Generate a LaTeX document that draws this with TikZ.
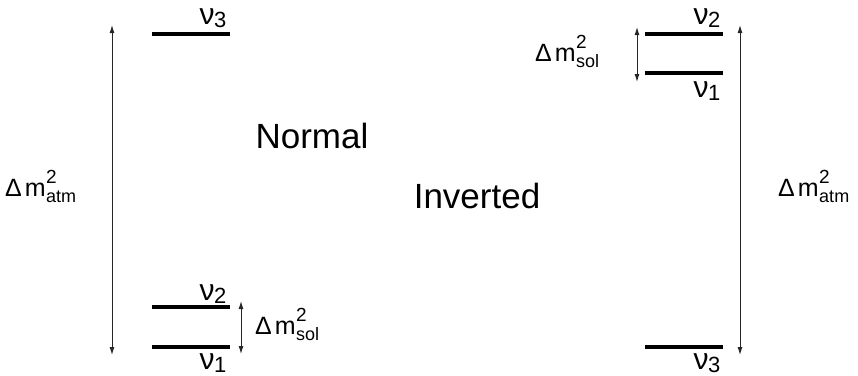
\documentclass[tikz,border=0pt]{standalone}
\usepackage{fontspec}
\setmainfont{Liberation Sans}
\usetikzlibrary{arrows.meta}
\newcommand\dmsq[1]{Δ\kern3pt m\kern0.5pt\rlap{\raisebox{12.5pt}{\fontsize{19}{19}\selectfont 2}}\raisebox{-6pt}{\fontsize{18}{18}\selectfont #1}}
\newcommand\nulab[1]{ν\kern-0.5pt\raisebox{-3pt}{\fontsize{22}{22}\selectfont #1}}
\begin{document}
\begin{tikzpicture}[x=1pt,y=-1pt,
  level/.style={fill=black,draw=none,minimum width=78pt,minimum height=4pt,inner sep=0pt},
  gap/.style={draw=black!85,line width=1pt,{Latex[length=8pt,width=5pt]}-{Latex[length=8pt,width=5pt]}},
  lab/.style={inner sep=0pt,font=\fontsize{25}{25}\selectfont},
  nlab/.style={inner sep=0pt,font=\fontsize{30}{30}\selectfont},
  title/.style={inner sep=0pt,font=\fontsize{35}{35}\selectfont}]
\useasboundingbox (0,0) rectangle (858,375);
% Normal hierarchy
\node[level] (n3) at (191,34) {};
\node[level] (n2) at (191,307) {};
\node[level] (n1) at (191,347) {};
\coordinate (at1) at (112,25);
\coordinate (at2) at (112,355);
\draw[gap] (at1) -- (at2);
\coordinate (s1) at (241,301);
\coordinate (s2) at (241,354);
\draw[gap] (s1) -- (s2);
\node[nlab,anchor=base] (ln3) at (213,24) {\nulab{3}};
\node[nlab,anchor=base] (ln2) at (213,300) {\nulab{2}};
\node[nlab,anchor=base] (ln1) at (213,369) {\nulab{1}};
\node[lab,anchor=base west] (atmL) at (5,196) {\dmsq{atm}};
\node[lab,anchor=base west] (solL) at (255,334) {\dmsq{sol}};
\node[title,anchor=base] (normal) at (312,148) {Normal};
% Inverted hierarchy
\node[level] (i2) at (684,34) {};
\node[level] (i1) at (684,73) {};
\node[level] (i3) at (684,347) {};
\coordinate (ia1) at (740,25);
\coordinate (ia2) at (740,355);
\draw[gap] (ia1) -- (ia2);
\coordinate (is1) at (637,27);
\coordinate (is2) at (637,82);
\draw[gap] (is1) -- (is2);
\node[nlab,anchor=base] (li2) at (707,24) {\nulab{2}};
\node[nlab,anchor=base] (li1) at (707,97) {\nulab{1}};
\node[nlab,anchor=base] (li3) at (707,369) {\nulab{3}};
\node[lab,anchor=base west] (atmR) at (778,196) {\dmsq{atm}};
\node[lab,anchor=base west] (solR) at (535,61) {\dmsq{sol}};
\node[title,anchor=base] (inverted) at (477,208) {Inverted};
\end{tikzpicture}
\end{document}
